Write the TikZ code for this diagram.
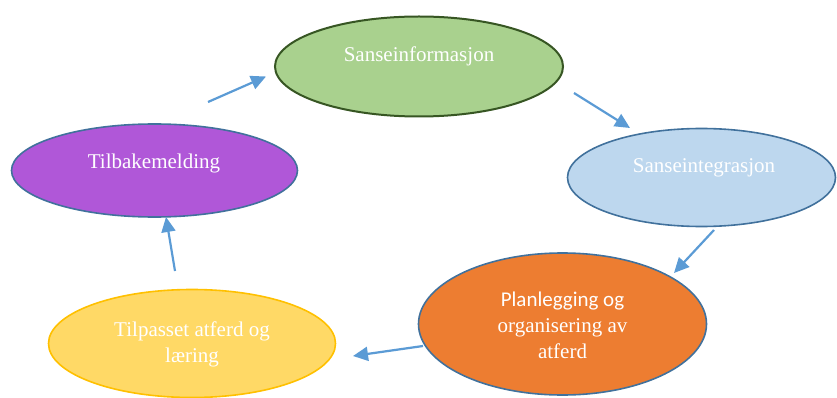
\documentclass[tikz,border=0pt]{standalone}
\usepackage{fontspec}
\setmainfont{Liberation Serif}
\newfontfamily\calibri{Carlito}
\usetikzlibrary{shapes.geometric,arrows.meta}
\definecolor{arrowblue}{HTML}{5B9BD5}
\definecolor{bordblue}{HTML}{41719C}
\definecolor{greenfill}{HTML}{A9D18E}
\definecolor{greenbord}{HTML}{375623}
\definecolor{bluefill}{HTML}{BDD7EE}
\definecolor{orangefill}{HTML}{ED7D31}
\definecolor{yellowfill}{HTML}{FFD966}
\definecolor{yellowbord}{HTML}{FFC000}
\definecolor{purplefill}{HTML}{B057D8}
\tikzset{
  oval/.style={ellipse, inner sep=0pt, line width=1.6pt, draw=bordblue},
  lbl/.style={anchor=base, text=white, inner sep=0pt, font=\fontsize{21}{25}\selectfont},
  flow/.style={draw=arrowblue, line width=2.2pt, -{Triangle[length=15pt,width=14pt]}}
}
\begin{document}
\begin{tikzpicture}[x=1pt,y=-1pt]
\useasboundingbox (0,0) rectangle (837,398);
% ellipses
\node[oval, fill=greenfill, draw=greenbord, line width=2pt, minimum width=288pt, minimum height=100pt] (info) at (419,66.5) {};
\node[oval, fill=bluefill, minimum width=268pt, minimum height=98pt] (integ) at (701.5,177.5) {};
\node[oval, fill=orangefill, minimum width=288pt, minimum height=142pt] (plan) at (562.5,324) {};
\node[oval, fill=yellowfill, draw=yellowbord, minimum width=287pt, minimum height=108pt] (tilp) at (192,343.5) {};
\node[oval, fill=purplefill, minimum width=286pt, minimum height=93pt] (tilb) at (154.5,170.5) {};
% texts
\node[lbl] (t1) at (419,62) {Sanseinformasjon};
\node[lbl] (t2) at (704,172.5) {Sanseintegrasjon};
\node[lbl, font=\calibri\fontsize{21}{25}\selectfont] (t3a) at (562.5,306.5) {Planlegging og};
\node[lbl] (t3b) at (562.5,332) {organisering av};
\node[lbl] (t3c) at (562.5,358) {atferd};
\node[lbl] (t4a) at (192,336) {Tilpasset atferd og};
\node[lbl] (t4b) at (192,362.5) {læring};
\node[lbl] (t5) at (154,168) {Tilbakemelding};
% arrow end points
\coordinate (a1s) at (208,102); \coordinate (a1e) at (266,76.5);
\coordinate (a2s) at (574,93);  \coordinate (a2e) at (630,128);
\coordinate (a3s) at (714,230); \coordinate (a3e) at (674,273);
\coordinate (a4s) at (423,346); \coordinate (a4e) at (353,356);
\coordinate (a5s) at (175,271); \coordinate (a5e) at (166,217);
\draw[flow] (a1s) -- (a1e);
\draw[flow] (a2s) -- (a2e);
\draw[flow] (a3s) -- (a3e);
\draw[flow] (a4s) -- (a4e);
\draw[flow] (a5s) -- (a5e);
\end{tikzpicture}
\end{document}
